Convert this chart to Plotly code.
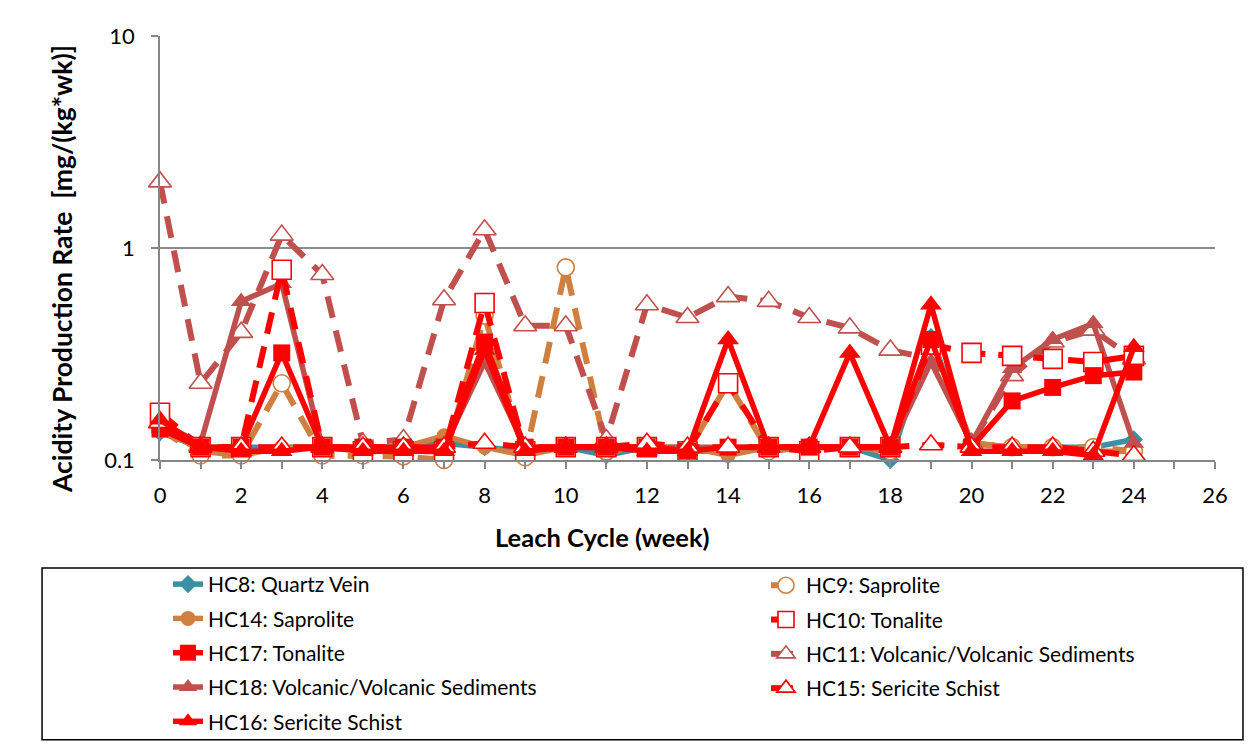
import plotly.graph_objects as go

weeks = list(range(25))

hc8 = [0.135, 0.115, 0.115, 0.115, 0.115, 0.115, 0.115, 0.12, 0.115, 0.11, 0.115, 0.105, 0.115,
       0.11, 0.11, 0.115, 0.115, 0.115, 0.10, 0.38, 0.12, 0.115, 0.115, 0.115, 0.125]
hc9 = [0.14, 0.105, 0.105, 0.23, 0.105, 0.105, 0.104, 0.10, 0.48, 0.103, 0.81, 0.11, 0.115,
       0.11, 0.23, 0.11, 0.115, 0.115, 0.11, 0.36, 0.12, 0.115, 0.115, 0.115, 0.11]
hc14 = [0.145, 0.11, 0.105, 0.115, 0.115, 0.115, 0.115, 0.13, 0.115, 0.105, 0.115, 0.115, 0.115,
        0.115, 0.105, 0.115, 0.115, 0.115, 0.11, 0.37, 0.12, 0.115, 0.115, 0.11, 0.11]
hc10 = [0.167, 0.115, 0.115, 0.79, 0.115, 0.11, 0.11, 0.11, 0.55, 0.11, 0.115, 0.115, 0.115,
        0.11, 0.23, 0.115, 0.11, 0.115, 0.115, 0.35, 0.32, 0.31, 0.30, 0.29, 0.31]
hc17 = [0.14, 0.115, 0.115, 0.32, 0.115, 0.115, 0.115, 0.115, 0.36, 0.115, 0.115, 0.115, 0.115,
        0.11, 0.115, 0.115, 0.115, 0.115, 0.115, 0.37, 0.115, 0.19, 0.22, 0.25, 0.26]
hc11 = [2.05, 0.23, 0.40, 1.15, 0.75, 0.12, 0.125, 0.57, 1.22, 0.43, 0.43, 0.125, 0.54,
        0.47, 0.59, 0.56, 0.47, 0.42, 0.33, 0.30, 0.12, 0.25, 0.36, 0.41, 0.30]
hc18 = [0.15, 0.12, 0.56, 0.68, 0.115, 0.115, 0.115, 0.115, 0.29, 0.115, 0.115, 0.115, 0.115,
        0.115, 0.115, 0.115, 0.115, 0.115, 0.115, 0.29, 0.12, 0.27, 0.37, 0.44, 0.12]
hc15 = [0.15, 0.115, 0.115, 0.115, 0.115, 0.115, 0.115, 0.115, 0.12, 0.115, 0.115, 0.115, 0.12,
        0.115, 0.115, 0.115, 0.115, 0.115, 0.115, 0.118, 0.115, 0.115, 0.115, 0.11, 0.105]
hc16 = [0.155, 0.115, 0.11, 0.11, 0.115, 0.11, 0.11, 0.11, 0.33, 0.11, 0.115, 0.115, 0.11,
        0.11, 0.37, 0.115, 0.115, 0.32, 0.115, 0.54, 0.11, 0.11, 0.11, 0.105, 0.34]

TEAL = "#3D8FA6"
ORANGE = "#CF8040"
RED = "#FF0000"
BROWN = "#C0504D"
DASH = "22px,13px"
FONT = "Lato, Carlito, Calibri, sans-serif"

# (name, values, color, symbol, open marker, dashed, size, legend, rank)
series = [
    ("HC8: Quartz Vein", hc8, TEAL, "diamond", False, False, 14, "legend", 1),
    ("HC14: Saprolite", hc14, ORANGE, "circle", False, False, 15, "legend", 2),
    ("HC9: Saprolite", hc9, ORANGE, "circle", True, True, 17, "legend2", 1),
    ("HC11: Volcanic/Volcanic Sediments", hc11, BROWN, "triangle-up", True, True, 20, "legend2", 3),
    ("HC18: Volcanic/Volcanic Sediments", hc18, BROWN, "triangle-up", False, False, 18, "legend", 4),
    ("HC10: Tonalite", hc10, RED, "square", True, True, 19, "legend2", 2),
    ("HC17: Tonalite", hc17, RED, "square", False, False, 17, "legend", 3),
    ("HC15: Sericite Schist", hc15, RED, "triangle-up", True, True, 20, "legend2", 4),
    ("HC16: Sericite Schist", hc16, RED, "triangle-up", False, False, 19, "legend", 5),
]

fig = go.Figure()

for name, vals, color, symbol, is_open, dashed, size, leg, rank in series:
    fig.add_trace(go.Scatter(
        x=weeks,
        y=vals,
        name=name,
        mode="lines+markers",
        legend=leg,
        legendrank=rank,
        legendgroup=name,
        cliponaxis=False,
        line=dict(color=color, width=6 if dashed else 5.5, dash=DASH if dashed else "solid"),
        marker=dict(
            symbol=symbol,
            size=size,
            color="white" if is_open else color,
            line=dict(color=color, width=1.6 if is_open else 0),
        ),
    ))

# legend frame
fig.add_shape(
    type="rect", xref="paper", yref="paper",
    x0=-0.1118, x1=1.0265, y0=-0.660, y1=-0.2547,
    line=dict(color="black", width=1.5),
)

# axis titles (placed as annotations, the x title is not centred on the plot)
fig.add_annotation(
    text="<b>Leach Cycle (week)</b>", xref="paper", yref="paper",
    x=0.419, y=-0.1816, xanchor="center", yanchor="middle",
    showarrow=False, font=dict(size=25.5),
)
fig.add_annotation(
    text="<b>Acidity Production Rate  [mg/(kg*wk)]</b>", xref="paper", yref="paper",
    x=-0.0929, y=0.4505, xanchor="center", yanchor="middle", textangle=-90,
    showarrow=False, font=dict(size=26.5),
)

fig.update_layout(
    width=1251,
    height=746,
    margin=dict(l=160, r=36, t=36, b=286, autoexpand=False),
    paper_bgcolor="white",
    plot_bgcolor="white",
    font=dict(family=FONT, size=21, color="black"),
    legend=dict(
        x=0.0076, y=-0.665, xanchor="left", yanchor="bottom",
        tracegroupgap=4, font=dict(size=21), bgcolor="rgba(0,0,0,0)",
    ),
    legend2=dict(
        x=0.5744, y=-0.5875, xanchor="left", yanchor="bottom",
        tracegroupgap=4, font=dict(size=21), bgcolor="rgba(0,0,0,0)",
    ),
)

fig.update_xaxes(
    range=[0, 26],
    tick0=0,
    dtick=2,
    ticks="outside",
    ticklen=7,
    tickcolor="#868686",
    tickwidth=1.5,
    minor=dict(dtick=1, ticks="outside", ticklen=7, tickcolor="#868686", tickwidth=1.5),
    showgrid=False,
    zeroline=False,
    showline=True,
    linecolor="#868686",
    linewidth=1.5,
    automargin=False,
    ticklabelstandoff=8,
    tickfont=dict(size=22),
)

fig.update_yaxes(
    type="log",
    range=[-1, 1],
    tickvals=[0.1, 1, 10],
    ticktext=["0.1", "1", "10"],
    ticks="outside",
    ticklen=7,
    tickcolor="#868686",
    tickwidth=1.5,
    showgrid=True,
    gridcolor="#8C8C8C",
    gridwidth=1.5,
    zeroline=False,
    showline=True,
    linecolor="#868686",
    linewidth=1.5,
    automargin=False,
    ticklabelstandoff=12,
    tickfont=dict(size=22),
)

fig.write_html(
    "out.html",
    config={"displayModeBar": False},
    post_script="document.body.style.margin='0px';",
)
